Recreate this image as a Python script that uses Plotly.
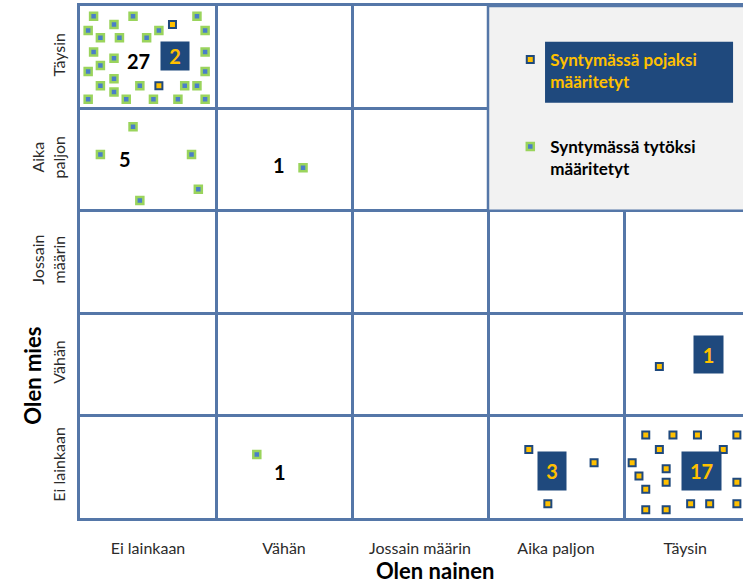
import plotly.graph_objects as go

# ---- data ----
levels = ["Ei lainkaan", "Vähän", "Jossain määrin", "Aika paljon", "Täysin"]
y_levels = ["Ei lainkaan", "Vähän", "Jossain<br>määrin", "Aika<br>paljon", "Täysin"]

# individuals assigned female at birth (x = "Olen nainen", y = "Olen mies"), jittered within cell
girls_x = [0.10, 0.25, 0.39, 0.86,
           0.06, 0.15, 0.29, 0.49, 0.58, 0.92,
           0.10, 0.25, 0.15, 0.92,
           0.06, 0.25, 0.92,
           0.15, 0.25, 0.44, 0.77, 0.86,
           0.06, 0.34, 0.54, 0.72, 0.92,
           0.39, 0.15, 0.82, 0.87, 0.44,
           1.64,
           1.30]
girls_y = [4.90, 4.82, 4.90, 4.90,
           4.76, 4.69, 4.69, 4.69, 4.76, 4.76,
           4.55, 4.49, 4.42, 4.55,
           4.36, 4.29, 4.36,
           4.22, 4.16, 4.22, 4.22, 4.22,
           4.09, 4.09, 4.09, 4.09, 4.09,
           3.82, 3.55, 3.55, 3.21, 3.10,
           3.42,
           0.62]

# individuals assigned male at birth
boys_x = [0.68, 0.58,
          4.26,
          3.30, 3.78, 3.44,
          4.16, 4.36, 4.54, 4.83, 4.26, 4.73, 4.06, 4.11, 4.31, 4.31, 4.16, 4.83,
          4.49, 4.63, 4.83, 4.16, 4.31]
boys_y = [4.82, 4.22,
          1.48,
          0.67, 0.54, 0.14,
          0.81, 0.81, 0.81, 0.81, 0.67, 0.67, 0.54, 0.41, 0.48, 0.35, 0.28, 0.35,
          0.14, 0.14, 0.14, 0.08, 0.08]

# count labels
girl_counts = ["27", "5", "1", "1"]
girl_count_x = [0.43, 0.33, 1.46, 1.47]
girl_count_y = [4.46, 3.51, 3.45, 0.45]

boy_counts = ["2", "1", "3", "17"]
boy_count_x = [0.70, 4.62, 3.47, 4.57]
boy_count_y = [4.51, 1.60, 0.46, 0.46]
boy_box_w = [28, 29, 28, 39]
boy_box_h = [28, 37, 38, 38]

# ---- style ----
FONT = "Lato"
GRID = "#5577A8"
NAVY = "#1F497D"
GOLD = "#FFC000"

fig = go.Figure()
fig.add_trace(go.Scatter(
    x=boys_x, y=boys_y, mode="markers",
    name="<span style='color:#FFC000'>Syntymässä pojaksi<br>määritetyt</span>",
    legendgroup="b",
    marker=dict(symbol="square", size=7, color=GOLD, line=dict(color=NAVY, width=2)),
    hoverinfo="skip"))
fig.add_trace(go.Scatter(
    x=girls_x, y=girls_y, mode="markers",
    name="Syntymässä tytöksi<br>määritetyt",
    legendgroup="g",
    marker=dict(symbol="square", size=7, color="#4A7EC8", line=dict(color="#9AD45C", width=2.5)),
    hoverinfo="skip"))

# gray legend panel
fig.add_shape(type="rect", xref="x", yref="y", x0=3, x1=5.2, y0=3, y1=5,
              fillcolor="#F2F2F2", line=dict(color=GRID, width=2.5), layer="between")
# navy box behind first legend entry
fig.add_shape(type="rect", xref="paper", yref="paper", x0=0.7014, x1=0.985, y0=0.811, y1=0.930,
              fillcolor=NAVY, line=dict(width=0), layer="above")

annotations = []
for t, x, y in zip(girl_counts, girl_count_x, girl_count_y):
    annotations.append(dict(x=x, y=y, xref="x", yref="y", text=f"<b>{t}</b>", showarrow=False,
                            font=dict(family=FONT, size=20, color="black")))
for t, x, y, w, h in zip(boy_counts, boy_count_x, boy_count_y, boy_box_w, boy_box_h):
    annotations.append(dict(x=x, y=y, xref="x", yref="y", text=f"<b>{t}</b>", showarrow=False,
                            width=w, height=h, bgcolor=NAVY, borderpad=0,
                            font=dict(family=FONT, size=20, color=GOLD)))
annotations.append(dict(x=0, xref="paper", y=1.39, yref="y", xshift=-47, xanchor="center",
                        yanchor="middle", text="<b>Olen mies</b>",
                        textangle=-90, showarrow=False, font=dict(family=FONT, size=22, color="black")))
annotations.append(dict(x=2.61, xref="x", y=0, yref="paper", yshift=-52, xanchor="center",
                        yanchor="middle", text="<b>Olen nainen</b>",
                        showarrow=False, font=dict(family=FONT, size=22, color="black")))

fig.update_layout(
    width=743, height=584,
    margin=dict(l=80, r=0, t=6, b=66),
    paper_bgcolor="white", plot_bgcolor="white",
    font=dict(family=FONT, size=16, color="#2b2b2b"),
    showlegend=True,
    legend=dict(x=0.649, y=0.93, xanchor="left", yanchor="top", bgcolor="rgba(0,0,0,0)",
                valign="top", tracegroupgap=40, traceorder="grouped",
                font=dict(family=FONT, size=17, color="black", weight="bold")),
    annotations=annotations,
    xaxis=dict(range=[0, 4.875], tickmode="array", tickvals=[0.5, 1.5, 2.5, 3.5, 4.45],
               ticktext=levels, showgrid=False, zeroline=False, ticks="",
               showline=True, mirror=True, linecolor=GRID, linewidth=2.5,
               ticklabelstandoff=14,
               minor=dict(tick0=0, dtick=1, showgrid=True, gridcolor=GRID, gridwidth=2.5),
               fixedrange=True),
    yaxis=dict(range=[0, 5], tickmode="array", tickvals=[0.5, 1.5, 2.5, 3.5, 4.5],
               ticktext=y_levels, tickangle=-90, showgrid=False, zeroline=False, ticks="",
               showline=True, mirror=False, linecolor=GRID, linewidth=2.5,
               ticklabelstandoff=6,
               minor=dict(tick0=0, dtick=1, showgrid=True, gridcolor=GRID, gridwidth=2.5),
               fixedrange=True),
)

fig.write_html("out.html", post_script="document.body.style.margin='0px';",
               config={"displayModeBar": False})
